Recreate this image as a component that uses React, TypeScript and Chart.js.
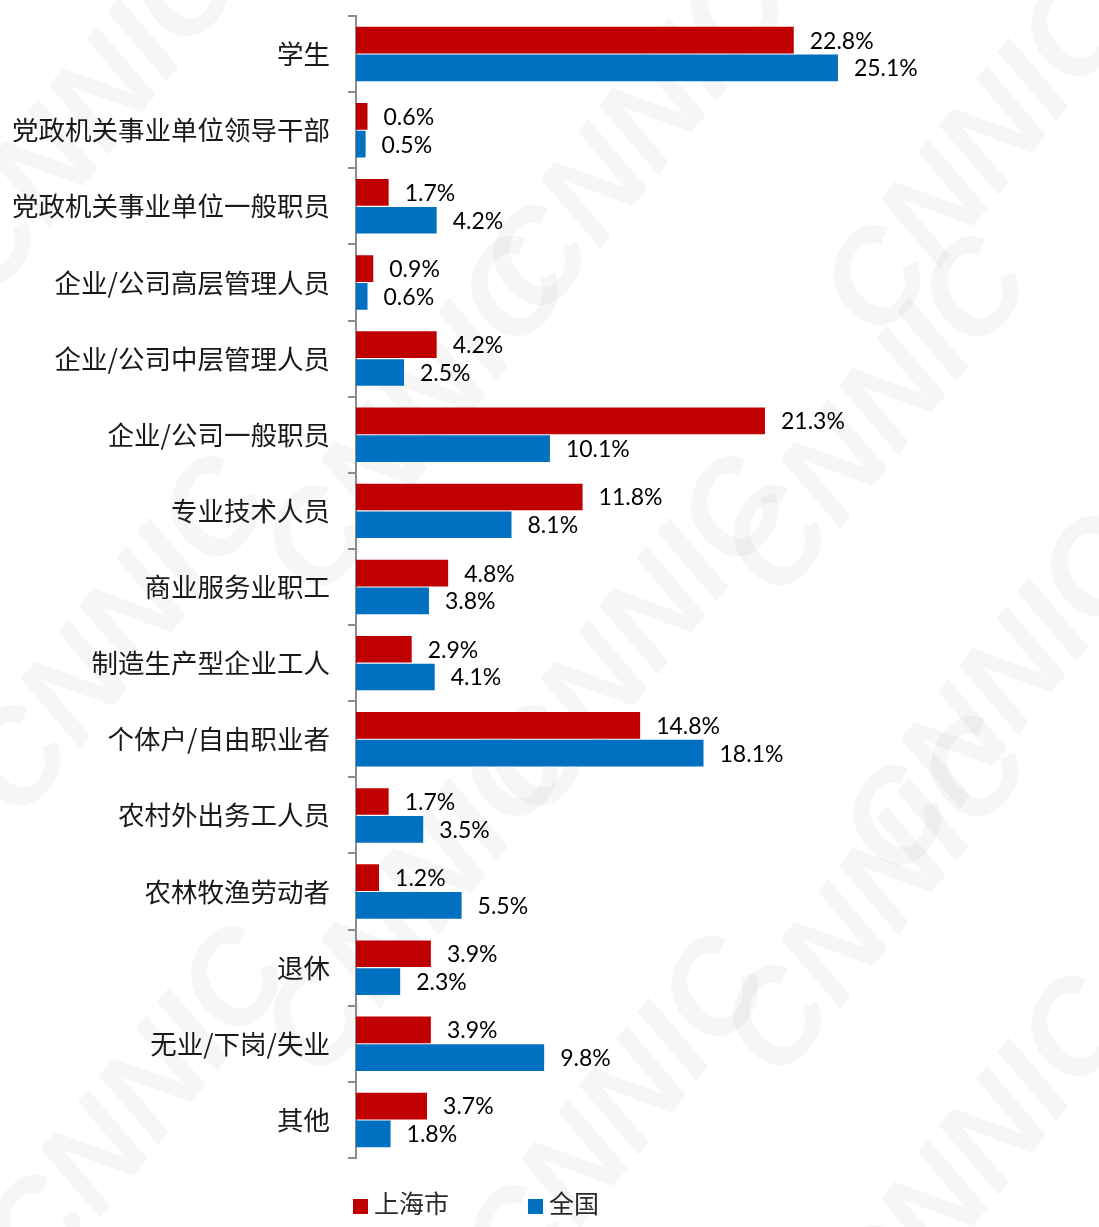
import React, { useEffect, useRef } from "react";
import { Chart, registerables } from "chart.js";

Chart.register(...registerables);

const categories = [
  "学生",
  "党政机关事业单位领导干部",
  "党政机关事业单位一般职员",
  "企业/公司高层管理人员",
  "企业/公司中层管理人员",
  "企业/公司一般职员",
  "专业技术人员",
  "商业服务业职工",
  "制造生产型企业工人",
  "个体户/自由职业者",
  "农村外出务工人员",
  "农林牧渔劳动者",
  "退休",
  "无业/下岗/失业",
  "其他",
];

const shanghaiValues = [22.8, 0.6, 1.7, 0.9, 4.2, 21.3, 11.8, 4.8, 2.9, 14.8, 1.7, 1.2, 3.9, 3.9, 3.7];
const nationalValues = [25.1, 0.5, 4.2, 0.6, 2.5, 10.1, 8.1, 3.8, 4.1, 18.1, 3.5, 5.5, 2.3, 9.8, 1.8];

const seriesNames = ["上海市", "全国"];
const seriesColors = ["#C00000", "#0070C0"];

const CJK = '"Noto Sans CJK SC", "Noto Sans", sans-serif';
const NUM = 'Lato, "Open Sans", "Liberation Sans", sans-serif';

const watermarkPlugin = {
  id: "watermark",
  beforeDraw(chart: any) {
    const ctx = chart.ctx;
    ctx.save();
    ctx.fillStyle = "#ffffff";
    ctx.fillRect(0, 0, chart.width, chart.height);
    ctx.fillStyle = "rgba(0,0,0,0.035)";
    ctx.font = 'italic bold 130px "Liberation Sans", sans-serif';
    ctx.textAlign = "center";
    ctx.textBaseline = "middle";
    const spots = [
      [90, 120], [640, 140], [980, 160], [420, 420], [880, 420],
      [120, 640], [640, 640], [1000, 700], [420, 900], [880, 900],
      [140, 1110], [620, 1120], [980, 1160],
    ];
    for (const [x, y] of spots) {
      ctx.save();
      ctx.translate(x, y);
      ctx.rotate(-0.9);
      ctx.fillText("CNNIC", 0, 0);
      ctx.restore();
    }
    ctx.restore();
  },
};

const valueLabelPlugin = {
  id: "valueLabels",
  afterDatasetsDraw(chart: any) {
    const ctx = chart.ctx;
    ctx.save();
    ctx.font = `23px ${NUM}`;
    ctx.fillStyle = "#000000";
    ctx.textAlign = "left";
    ctx.textBaseline = "middle";
    chart.data.datasets.forEach((ds: any, di: number) => {
      const meta = chart.getDatasetMeta(di);
      meta.data.forEach((bar: any, i: number) => {
        const v = ds.data[i];
        ctx.fillText(v.toFixed(1) + "%", bar.x + 16, bar.y + 1);
      });
    });
    ctx.restore();
  },
};

const customLegendPlugin = {
  id: "customLegend",
  afterDraw(chart: any) {
    const ctx = chart.ctx;
    ctx.save();
    const xs = [353, 528];
    const y = 1206;
    ctx.font = `25px ${CJK}`;
    ctx.textBaseline = "middle";
    ctx.textAlign = "left";
    chart.data.datasets.forEach((ds: any, i: number) => {
      ctx.fillStyle = ds.backgroundColor;
      ctx.fillRect(xs[i], y - 7, 15, 15);
      ctx.fillStyle = "#2a2a2a";
      ctx.fillText(ds.label, xs[i] + 21, y - 3);
    });
    ctx.restore();
  },
};

export default function App() {
  const canvasRef = useRef<HTMLCanvasElement | null>(null);

  useEffect(() => {
    document.body.style.margin = "0";
    const canvas = canvasRef.current;
    if (!canvas) return;
    const xMax = 38;
    const pxPerUnit = 19.2;
    const left = 356;
    const right = 1099 - (left + xMax * pxPerUnit);
    const chart = new Chart(canvas, {
      type: "bar",
      data: {
        labels: categories,
        datasets: [
          {
            label: seriesNames[0],
            data: shanghaiValues,
            backgroundColor: seriesColors[0],
            borderWidth: 0,
            categoryPercentage: 0.73,
            barPercentage: 0.96,
          },
          {
            label: seriesNames[1],
            data: nationalValues,
            backgroundColor: seriesColors[1],
            borderWidth: 0,
            categoryPercentage: 0.73,
            barPercentage: 0.96,
          },
        ],
      },
      options: {
        indexAxis: "y",
        animation: false,
        responsive: false,
        maintainAspectRatio: false,
        devicePixelRatio: 1,
        layout: { padding: { top: 16, bottom: 69, left: 0, right: right } },
        plugins: {
          legend: { display: false },
          tooltip: { enabled: false },
        },
        scales: {
          x: {
            display: false,
            min: 0,
            max: xMax,
          },
          y: {
            offset: true,
            afterFit: (scale: any) => {
              scale.width = left;
              scale.paddingTop = 0;
              scale.paddingBottom = 0;
            },
            grid: {
              offset: true,
              drawOnChartArea: false,
              drawTicks: true,
              tickLength: 8,
              color: "#8c8c8c",
              lineWidth: 2,
            },
            border: { display: true, color: "#8c8c8c", width: 2 },
            ticks: {
              padding: 18,
              color: "#1a1a1a",
              font: { family: CJK, size: 26.5 },
            },
          },
        },
      },
      plugins: [watermarkPlugin, valueLabelPlugin, customLegendPlugin],
    });
    return () => chart.destroy();
  }, []);

  return (
    <div style={{ width: 1099, height: 1227 }}>
      <canvas ref={canvasRef} width={1099} height={1227} style={{ display: "block", width: 1099, height: 1227 }} />
    </div>
  );
}
